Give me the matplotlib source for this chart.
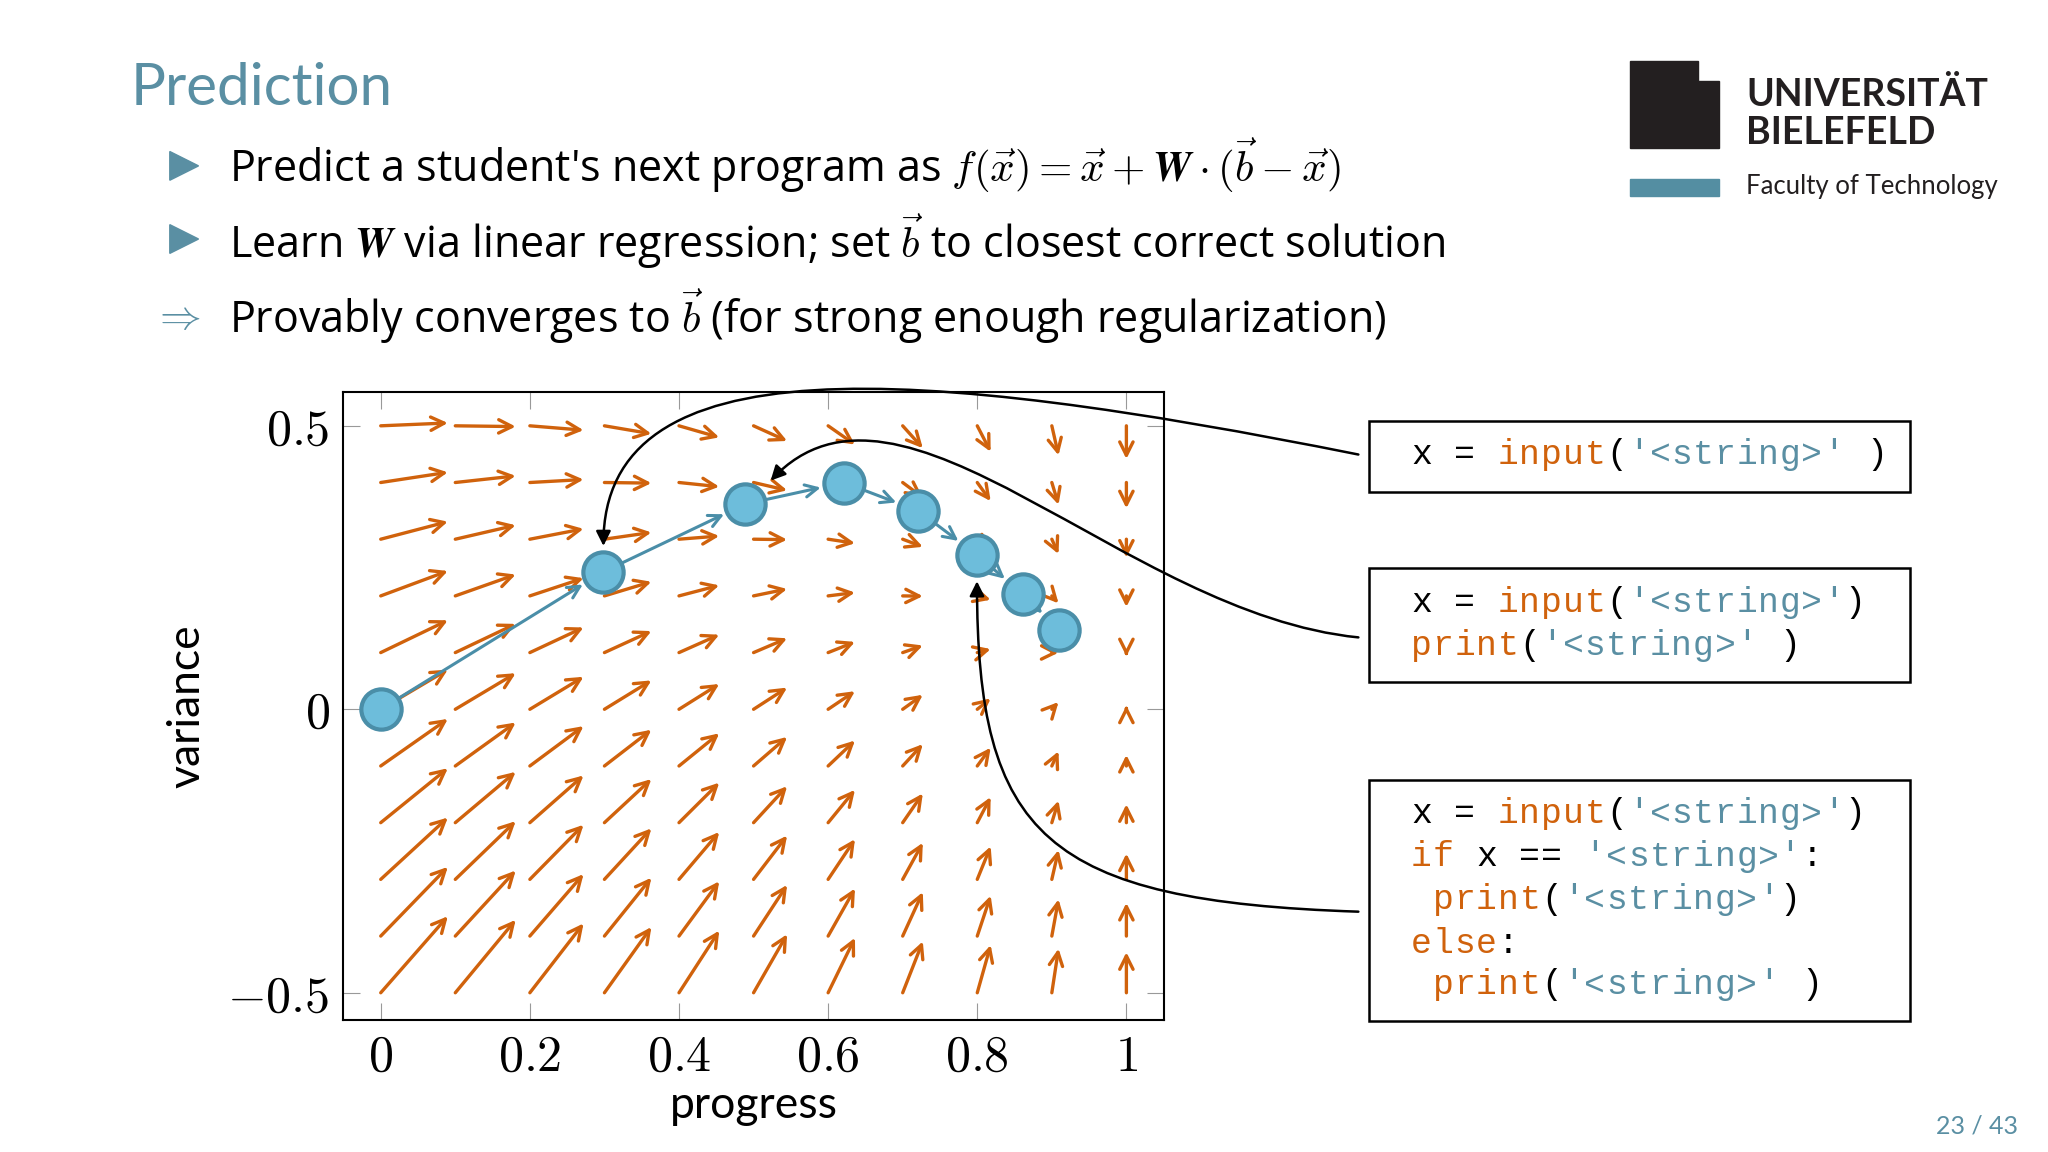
import numpy as np
import matplotlib
matplotlib.use("Agg")
import matplotlib.pyplot as plt
from matplotlib.patches import FancyArrowPatch, Rectangle, Polygon
from matplotlib.path import Path

plt.rcParams['mathtext.fontset'] = 'cm'
plt.rcParams['font.family'] = ['Lato', 'DejaVu Sans']

# model data
W = np.array([[0.09, 0.0], [0.0635, 0.13]])
b_target = np.array([1.0, 0.05])
grid_x = [0.0, 0.1, 0.2, 0.3, 0.4, 0.5, 0.6, 0.7, 0.8, 0.9, 1.0]
grid_y = [-0.5, -0.4, -0.3, -0.2, -0.1, 0.0, 0.1, 0.2, 0.3, 0.4, 0.5]
traj_x = [0.0, 0.298, 0.489, 0.621, 0.721, 0.80, 0.861, 0.91]
traj_y = [0.0, 0.242, 0.362, 0.40, 0.35, 0.272, 0.203, 0.14]
x_ticks = [0, 0.2, 0.4, 0.6, 0.8, 1]
x_tick_labels = ['$0$', '$0.2$', '$0.4$', '$0.6$', '$0.8$', '$1$']
y_ticks = [-0.5, 0, 0.5]
y_tick_labels = ['$-0.5$', '$0$', '$0.5$']

ORANGE = '#d0620c'
TEAL = '#5a8fa3'
BLUE = '#6dbddb'
BLUE_E = '#4a8ea8'

fig = plt.figure(figsize=(20.48, 11.52), dpi=100)
ax = fig.add_axes([0.1677, 0.1146, 0.4005, 0.5453])
X, Y = np.meshgrid(grid_x, grid_y)
U = W[0, 0] * (b_target[0] - X) + W[0, 1] * (b_target[1] - Y)
V = W[1, 0] * (b_target[0] - X) + W[1, 1] * (b_target[1] - Y)
for x0, y0, u, v in zip(X.ravel(), Y.ravel(), U.ravel(), V.ravel()):
    ax.annotate('', xy=(x0 + u, y0 + v), xytext=(x0, y0),
                arrowprops=dict(arrowstyle='->', color=ORANGE, lw=2.4,
                                shrinkA=0, shrinkB=0, mutation_scale=24), zorder=2)
for i in range(len(traj_x) - 1):
    ax.annotate('', xy=(traj_x[i+1], traj_y[i+1]), xytext=(traj_x[i], traj_y[i]),
                arrowprops=dict(arrowstyle='->', color=BLUE_E, lw=2.2,
                                shrinkA=15, shrinkB=17, mutation_scale=22), zorder=3)
ax.plot(traj_x, traj_y, 'o', ms=29, mfc=BLUE, mec=BLUE_E, mew=3, zorder=4)
ax.set_xlim(-0.05, 1.05)
ax.set_ylim(-0.548, 0.56)
ax.set_xticks(x_ticks, x_tick_labels, fontsize=36)
ax.set_yticks(y_ticks, y_tick_labels, fontsize=36)
ax.tick_params(direction='in', length=12, color='#999999', top=True, right=True, pad=10)
for s in ax.spines.values():
    s.set_linewidth(1.5)
ax.set_xlabel('progress', fontsize=32, labelpad=4)
ax.set_ylabel('variance', fontsize=32, labelpad=14)

# overlay in display-pixel coordinates of the 1568x882 layout
ov = fig.add_axes([0, 0, 1, 1])
ov.set_xlim(0, 1568)
ov.set_ylim(882, 0)
ov.axis('off')
ov.set_zorder(10)
ov.patch.set_alpha(0)

fig.text(100 / 1568, 1 - 68 / 882, 'Prediction', fontsize=42, color=TEAL, va='center')
for yy in (127, 183):
    ov.add_patch(Polygon([[130, yy - 11], [130, yy + 11], [152, yy]], color=TEAL))
ov.text(135, 243, r'$\Rightarrow$', fontsize=30, color=TEAL, ha='center', va='center')
lines = [r"Predict a student's next program as $f(\vec{x}) = \vec{x} + \boldsymbol{W} \cdot (\vec{b} - \vec{x})$",
         r"Learn $\boldsymbol{W}$ via linear regression; set $\vec{b}$ to closest correct solution",
         r"Provably converges to $\vec{b}$ (for strong enough regularization)"]
for yy, t in zip((127, 185, 242), lines):
    ov.text(175, yy, t, fontsize=31, va='center', family=['Open Sans', 'DejaVu Sans'])

# logo
ov.add_patch(Polygon([[1248, 47], [1300, 47], [1300, 62], [1316, 62], [1316, 113], [1248, 113]], color='#231f20'))
ov.add_patch(Rectangle((1248, 137), 68, 13, color='#548ea2'))
ov.text(1337, 72, 'UNIVERSITÄT', fontsize=27, fontweight='bold', va='center', color='#231f20')
ov.text(1337, 102, 'BIELEFELD', fontsize=27, fontweight='bold', va='center', color='#231f20')
ov.text(1337, 143, 'Faculty of Technology', fontsize=18.5, va='center', color='#231f20')
ov.text(1545, 862, '23 / 43', fontsize=18, ha='right', va='center', color=TEAL)

# code boxes
boxes = [(1048, 322, 414, 55), (1048, 435, 414, 87), (1048, 597, 414, 185)]
for bx, by, bw, bh in boxes:
    ov.add_patch(Rectangle((bx, by), bw, bh, fill=False, lw=1.8, ec='black'))
code = [
    (348, [("x = ", 'k'), ("input", ORANGE), ("(", 'k'), ("'<string>' ", TEAL), (")", 'k')]),
    (461, [("x = ", 'k'), ("input", ORANGE), ("(", 'k'), ("'<string>'", TEAL), (")", 'k')]),
    (494, [("print", ORANGE), ("(", 'k'), ("'<string>' ", TEAL), (")", 'k')]),
    (623, [("x = ", 'k'), ("input", ORANGE), ("(", 'k'), ("'<string>'", TEAL), (")", 'k')]),
    (656, [("if", ORANGE), (" x == ", 'k'), ("'<string>'", TEAL), (":", 'k')]),
    (689, [(" ", 'k'), ("print", ORANGE), ("(", 'k'), ("'<string>'", TEAL), (")", 'k')]),
    (722, [("else", ORANGE), (":", 'k')]),
    (754, [(" ", 'k'), ("print", ORANGE), ("(", 'k'), ("'<string>' ", TEAL), (")", 'k')]),
]
CW = 16.6
for yy, toks in code:
    i = 0
    for s, c in toks:
        for ch in s:
            if ch != ' ':
                ov.text(1080 + i * CW + CW / 2, yy, ch, fontsize=25, color=c,
                        family='Liberation Mono', ha='center', va='center')
            i += 1

# curved annotation arrows
curves = [
    [(1040, 348), (700, 280), (462, 262), (462, 418)],
    [(1040, 488), (860, 470), (690, 262), (590, 368)],
    [(1040, 698), (800, 690), (748, 640), (748, 445)],
]
for pts in curves:
    p = Path(pts, [Path.MOVETO, Path.CURVE4, Path.CURVE4, Path.CURVE4])
    ov.add_patch(FancyArrowPatch(path=p, arrowstyle='-|>', mutation_scale=22, lw=1.8, color='black'))

fig.savefig('out.png', dpi=100)
